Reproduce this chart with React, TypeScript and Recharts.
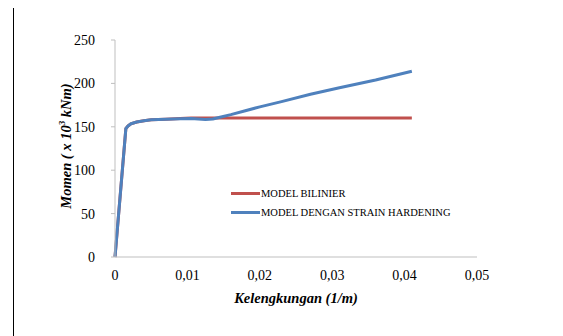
import React from "react";
import { LineChart, Line, XAxis, YAxis } from "recharts";

const xTicks = [0, 0.01, 0.02, 0.03, 0.04, 0.05];
const yTicks = [0, 50, 100, 150, 200, 250];

const bilinierX = [0, 0.0015, 0.0018, 0.0022, 0.003, 0.004, 0.005, 0.007, 0.009, 0.0105, 0.041];
const bilinierY = [0, 148, 151, 153.5, 155.5, 157, 158, 158.8, 159.5, 160, 160];

const hardeningX = [0, 0.0015, 0.0018, 0.0022, 0.003, 0.004, 0.005, 0.007, 0.009, 0.0105, 0.0115, 0.0125, 0.0135, 0.0145, 0.016, 0.018, 0.02, 0.023, 0.027, 0.031, 0.036, 0.041];
const hardeningY = [0, 148, 151, 153.5, 155.5, 157, 158, 158.8, 159.3, 159.5, 159, 158.5, 159, 161, 164, 168.5, 173, 179, 187.5, 195, 204, 214];

const seriesNames = ["MODEL BILINIER", "MODEL DENGAN STRAIN HARDENING"];

const bilinier = bilinierX.map((x, i) => ({ x, y: bilinierY[i] }));
const hardening = hardeningX.map((x, i) => ({ x, y: hardeningY[i] }));

const RED = "#C0504D";
const BLUE = "#4F81BD";
const SERIF = "'Liberation Serif', 'Times New Roman', serif";

const fmt = (v: number) => (v === 0 ? "0" : v.toFixed(2).replace(".", ","));

export default function App() {
  return (
    <div style={{ position: "relative", width: 563, height: 336, marginLeft: -8, marginTop: -8, background: "#fff", overflow: "hidden" }}>
      <div style={{ position: "absolute", left: 7, top: 3.5, width: 556, height: 1.5, background: "#000" }} />
      <div style={{ position: "absolute", left: 14, top: 5.5, width: 549, height: 1, background: "#000" }} />
      <div style={{ position: "absolute", left: 12.5, top: 3.5, width: 1.5, height: 333, background: "#000" }} />
      <div style={{ position: "absolute", left: 0, top: 0 }}>
        <LineChart width={563} height={336} margin={{ top: 40, right: 86, left: 55, bottom: 29 }}>
          <XAxis
            type="number"
            dataKey="x"
            domain={[0, 0.05]}
            ticks={xTicks}
            tickFormatter={fmt}
            stroke="#bfbfbf"
            tickSize={0}
            tickMargin={13}
            height={50}
            tick={{ fill: "#000", fontFamily: SERIF, fontSize: 14 }}
            allowDuplicatedCategory={false}
          />
          <YAxis
            type="number"
            dataKey="y"
            domain={[0, 250]}
            ticks={yTicks}
            stroke="#bfbfbf"
            tickSize={4}
            tickMargin={16}
            width={60}
            tick={{ fill: "#000", fontFamily: SERIF, fontSize: 14 }}
          />
          <Line data={bilinier} dataKey="y" type="linear" stroke={RED} strokeWidth={3} dot={false} isAnimationActive={false} name={seriesNames[0]} />
          <Line data={hardening} dataKey="y" type="linear" stroke={BLUE} strokeWidth={3} strokeLinejoin="round" dot={false} isAnimationActive={false} name={seriesNames[1]} />
        </LineChart>
      </div>
      <div style={{ position: "absolute", left: 231, top: 183.5, fontFamily: SERIF, fontSize: 10.5, color: "#000" }}>
        {[RED, BLUE].map((c, i) => (
          <div key={i} style={{ display: "flex", alignItems: "center", height: 19.5 }}>
            <div style={{ width: 29, height: 3, background: c, marginRight: 1 }} />
            <span style={{ whiteSpace: "nowrap" }}>{seriesNames[i]}</span>
          </div>
        ))}
      </div>
      <div
        style={{
          position: "absolute",
          left: 66,
          top: 146,
          transform: "translate(-50%, -50%) rotate(-90deg)",
          whiteSpace: "nowrap",
          fontFamily: SERIF,
          fontSize: 14.5,
          fontWeight: "bold",
          fontStyle: "italic",
        }}
      >
        Momen ( x 10<sup style={{ fontSize: 9 }}>3</sup> kNm)
      </div>
      <div
        style={{
          position: "absolute",
          left: 296,
          top: 298,
          transform: "translate(-50%, -50%)",
          whiteSpace: "nowrap",
          fontFamily: SERIF,
          fontSize: 14.5,
          fontWeight: "bold",
          fontStyle: "italic",
        }}
      >
        Kelengkungan (1/m)
      </div>
    </div>
  );
}
